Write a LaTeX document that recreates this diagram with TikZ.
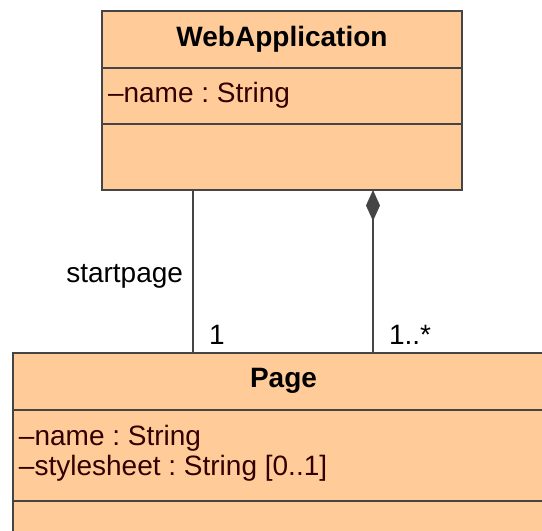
\documentclass[tikz,border=0pt]{standalone}
\usepackage{fontspec}
\setmainfont{Liberation Sans}
\usetikzlibrary{positioning,calc,arrows.meta}
\frenchspacing

\definecolor{classfill}{HTML}{FFCC99}
\definecolor{classline}{HTML}{454545}
\definecolor{attrtext}{HTML}{330000}

\begin{document}
\begin{tikzpicture}[x=1pt, y=-1pt,
      every node/.append style={font=\fontsize{28}{30}\selectfont, outer sep=0pt},
      part/.style={draw=classline, fill=classfill, line width=2pt, inner sep=0pt, anchor=north}]
    \tikzstyle{attr} = [anchor=base west, inner sep=0pt, text=attrtext]
    \tikzstyle{mult} = [anchor=base west, inner sep=0pt, xshift=16pt, yshift=9pt]
    \tikzstyle{link} = [draw=classline, line width=1.8pt]
    \tikzstyle{composite} = [link, {Diamond[length=31pt,width=14pt,fill=classline]}-]
    \useasboundingbox (0,0) rectangle (542,531);
    \clip (0,0) rectangle (542,531);
    % WebApplication
    \node (webapp) [part, minimum width=360pt, minimum height=57pt] at (282,11) {\bfseries WebApplication};
    \node (webapp attrs) [part, minimum width=360pt, minimum height=56pt, below=0pt of webapp] {};
    \node (webapp ops) [part, minimum width=360pt, minimum height=66pt, below=0pt of webapp attrs] {};
    \node (webapp name) [attr] at ($(webapp attrs.north west)+(6,34)$) {–name : String};
    % Page
    \node (page) [part, minimum width=541pt, minimum height=56.5pt] at (283.5,353) {\bfseries Page};
    \node (page attrs) [part, minimum width=541pt, minimum height=91pt, below=0pt of page] {};
    \node (page ops) [part, minimum width=541pt, minimum height=66pt, below=0pt of page attrs] {};
    \node (page name) [attr] at ($(page attrs.north west)+(6,35.5)$) {–name : String};
    \node (page style) [attr] at ($(page name.base west)+(0,30)$) {–stylesheet : String [0..1]};
    % associations
    \path (webapp ops.south west) ++(91,0) coordinate (start from)
          (webapp ops.south west) ++(271,0) coordinate (comp from);
    \draw [link] (start from) -- node [anchor=base east, inner sep=0pt, pos=0.57, xshift=-10pt] {startpage}
          (start from |- page.north) coordinate (start to);
    \node [mult] at (start to) {1};
    \draw [composite] (comp from) -- (comp from |- page.north) coordinate (comp to);
    \node [mult] at (comp to) {1..*};
\end{tikzpicture}
\end{document}
